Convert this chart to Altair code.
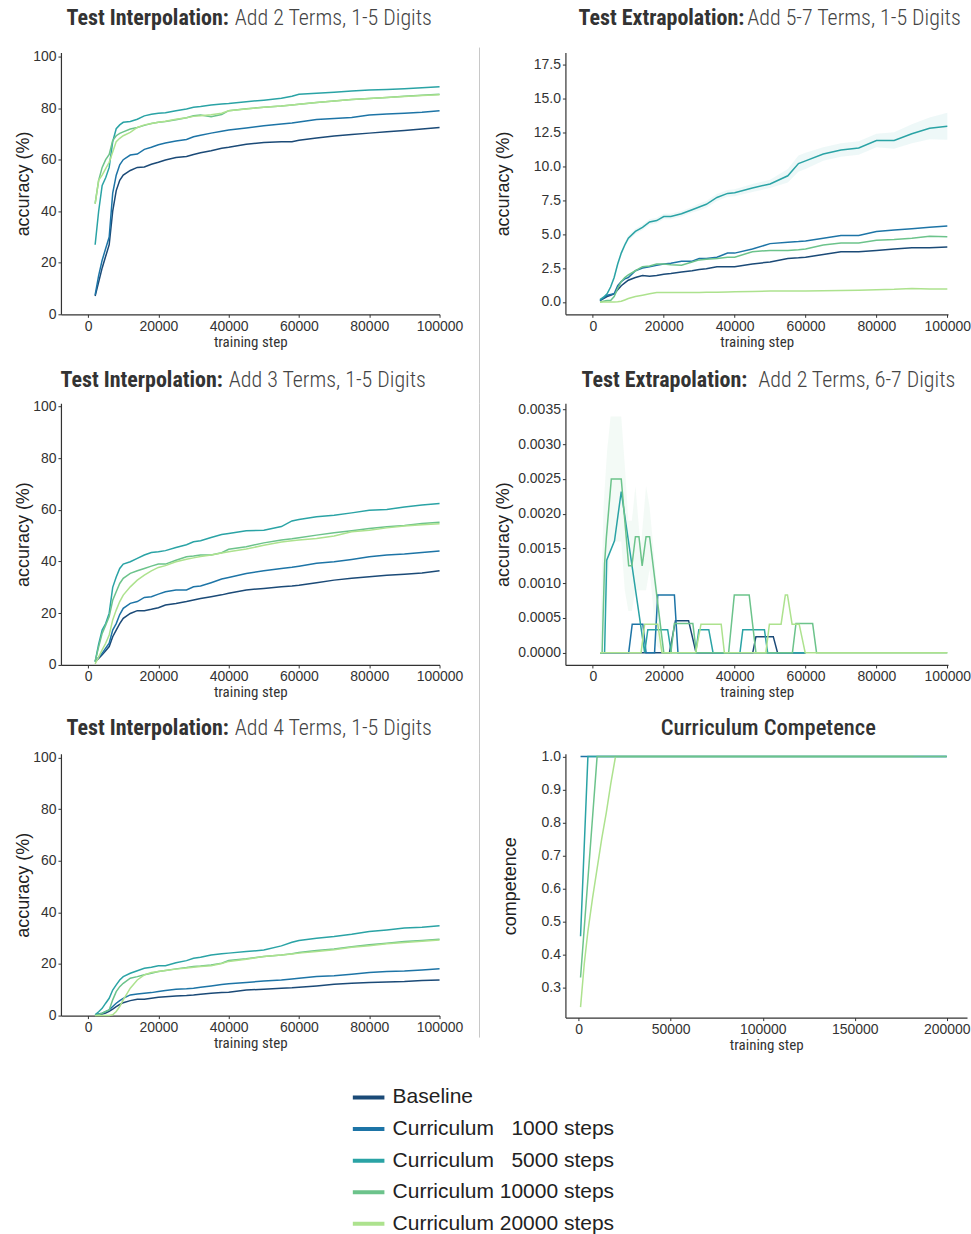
import altair as alt
import pandas as pd

SERIES = ["Baseline", "Curriculum\u2007 1000 steps", "Curriculum\u2007 5000 steps",
          "Curriculum 10000 steps", "Curriculum 20000 steps"]
COLORS = ["#1b4a77", "#1d74a6", "#2aa3a5", "#6cc38b", "#ade28e"]

STEPS = [2000, 3000, 4000, 5000, 6000, 7000, 8000, 9000, 10000, 12000, 14000, 16000, 18000,
         20000, 22000, 25000, 28000, 30000, 32000, 35000, 38000, 40000, 45000, 50000, 55000,
         58000, 60000, 65000, 70000, 75000, 80000, 85000, 90000, 95000, 100000]

# ---- Test Interpolation: Add 2 Terms ----
p1_base = [7.1, 12.5, 18, 22.5, 27, 40, 48, 52, 54, 55.8, 57, 57.2, 58.2, 59, 59.9, 60.8, 61.2, 62,
           62.7, 63.5, 64.4, 64.8, 66, 66.7, 67, 67, 67.5, 68.4, 69.2, 69.8, 70.3, 70.8, 71.3, 71.9, 72.5]
p1_c1000 = [7.5, 15, 21, 25.5, 30, 47, 54, 58, 60, 61.8, 62.2, 64, 64.8, 65.8, 66.5, 67.2, 67.8, 68.9,
            69.5, 70.3, 71, 71.5, 72.3, 73.2, 73.8, 74.2, 74.6, 75.6, 76, 76.4, 77.3, 77.7, 78, 78.4, 79]
p1_c5000 = [27, 40, 50, 53, 57, 67, 72, 73.5, 74.5, 74.8, 75.7, 77, 77.6, 78, 78.2, 79, 79.7, 80.3,
            80.6, 81.2, 81.6, 81.8, 82.5, 83.1, 83.8, 84.6, 85.4, 85.8, 86.2, 86.6, 87, 87.2, 87.5, 87.9, 88.3]
p1_c10000 = [43, 52, 57, 60, 62, 67.4, 69.3, 70.2, 70.8, 71.9, 72.5, 73.3, 74, 74.5, 74.8, 75.5, 76.3, 77,
             77.3, 76.7, 77.5, 79, 79.8, 80.3, 80.8, 81.2, 81.5, 82.2, 82.8, 83.3, 83.7, 84.1, 84.6, 85, 85.4]
p1_c20000 = [42.8, 52, 54, 56.5, 59, 63, 67, 68.3, 69.3, 70.6, 72.5, 73.5, 74, 74.5, 74.9, 75.7, 76.3, 76.8,
             77, 77.4, 78, 79, 79.7, 80.3, 80.8, 81.2, 81.5, 82.2, 82.8, 83.3, 83.7, 84.1, 84.5, 84.9, 85.2]

# ---- Test Extrapolation: Add 5-7 Terms ----
p2_base = [0.1, 0.25, 0.4, 0.5, 0.6, 0.9, 1.2, 1.4, 1.6, 1.8, 1.95, 1.9, 1.95, 2.05, 2.1, 2.2, 2.3, 2.4,
           2.45, 2.6, 2.6, 2.6, 2.8, 2.95, 3.2, 3.25, 3.3, 3.5, 3.7, 3.7, 3.8, 3.9, 4.0, 4.0, 4.05]
p2_c1000 = [0.1, 0.3, 0.5, 0.55, 0.6, 1.2, 1.5, 1.7, 1.8, 2.3, 2.5, 2.6, 2.7, 2.8, 2.85, 3.0, 3.0, 3.2,
            3.2, 3.3, 3.6, 3.6, 3.9, 4.3, 4.4, 4.45, 4.5, 4.7, 4.9, 4.9, 5.2, 5.3, 5.4, 5.5, 5.6]
p2_c5000 = [0.17, 0.35, 0.6, 1.1, 1.8, 2.8, 3.6, 4.2, 4.7, 5.2, 5.5, 5.9, 6.0, 6.3, 6.3, 6.5, 6.8, 7.0,
            7.2, 7.7, 8.0, 8.05, 8.4, 8.7, 9.3, 10.2, 10.4, 10.9, 11.2, 11.35, 11.9, 11.9, 12.4, 12.8, 12.95]
p2_c10000 = [0.0, 0.05, 0.1, 0.1, 0.4, 1.0, 1.5, 1.8, 2.0, 2.3, 2.6, 2.65, 2.8, 2.8, 2.75, 2.7, 2.95, 3.1,
             3.15, 3.2, 3.3, 3.3, 3.7, 3.8, 3.8, 3.85, 3.9, 4.2, 4.35, 4.35, 4.55, 4.6, 4.7, 4.85, 4.8]
p2_c20000 = [0.0, 0.0, 0.0, 0.0, 0.0, 0.02, 0.05, 0.15, 0.25, 0.4, 0.5, 0.6, 0.7, 0.7, 0.7, 0.7, 0.7, 0.7,
             0.72, 0.72, 0.74, 0.75, 0.77, 0.8, 0.8, 0.8, 0.8, 0.82, 0.85, 0.87, 0.9, 0.93, 1.0, 0.95, 0.95]
p2_c5000_hi = [0.2, 0.4, 0.7, 1.25, 2.0, 3.0, 3.8, 4.4, 4.9, 5.4, 5.7, 6.1, 6.2, 6.5, 6.5, 6.7, 7.0, 7.25,
               7.45, 7.95, 8.25, 8.3, 8.7, 9.0, 9.8, 10.8, 11.0, 11.4, 11.7, 11.85, 12.4, 12.5, 13.1, 13.6, 13.95]
p2_c5000_lo = [0.14, 0.3, 0.5, 0.95, 1.6, 2.6, 3.4, 4.0, 4.5, 5.0, 5.3, 5.7, 5.8, 6.1, 6.1, 6.3, 6.6, 6.75,
               6.95, 7.45, 7.75, 7.8, 8.1, 8.4, 8.8, 9.6, 9.8, 10.4, 10.7, 10.85, 11.4, 11.3, 11.7, 12.0, 11.95]

# ---- Test Interpolation: Add 3 Terms ----
p3_base = [1.3, 2.5, 3.9, 5.5, 7.1, 10.9, 13.5, 16, 18, 19.9, 21, 21, 21.5, 22.1, 23.2, 23.8, 24.5, 25.1,
           25.7, 26.4, 27.1, 27.7, 29, 29.6, 30.2, 30.5, 30.8, 31.8, 32.8, 33.5, 34.1, 34.7, 35.1, 35.6, 36.4]
p3_c1000 = [1.3, 3, 4.5, 6.5, 8.4, 13.5, 16, 19.5, 21.9, 23.8, 24.5, 26.1, 26.4, 27.4, 28.3, 29, 29, 30.2,
            30.5, 31.8, 33.2, 33.8, 35.4, 36.4, 37.3, 37.8, 38.2, 39.3, 39.9, 40.8, 41.8, 42.5, 42.9, 43.5, 44.1]
p3_c5000 = [1.3, 8, 13.5, 16, 20, 30, 34, 37.3, 39, 39.9, 41.2, 42.5, 43.5, 43.8, 44.2, 45.4, 46.5, 47.6,
            48, 49.3, 50.4, 50.8, 51.9, 52.1, 53.5, 55.7, 56.2, 57.3, 57.9, 58.8, 59.8, 60.1, 61.1, 61.8, 62.4]
p3_c10000 = [1.3, 7, 12.2, 15.4, 18.7, 25, 28.3, 31.5, 33.5, 35.4, 36.4, 37.3, 38.2, 39, 39, 40.5, 41.8, 42.1,
             42.5, 42.5, 43.4, 44.7, 45.7, 47.2, 48.3, 48.8, 49.2, 50.2, 51.1, 51.9, 52.8, 53.4, 53.9, 54.7, 55.2]
p3_c20000 = [0.4, 3, 5.8, 8.4, 11.6, 17.4, 21.2, 24.5, 27, 30.2, 32.8, 34.7, 36.4, 37.7, 38.4, 39.9, 40.9, 41.4,
             41.9, 42.5, 43.3, 43.8, 44.8, 46.3, 47.5, 48, 48.3, 48.9, 49.9, 51.5, 52.1, 53, 53.7, 54.2, 54.6]

# ---- Test Interpolation: Add 4 Terms ----
p5_base = [0.3, 0.4, 0.6, 1.0, 1.6, 2.5, 3.5, 4.3, 5, 5.8, 6.3, 6.3, 6.7, 7.1, 7.3, 7.6, 7.8, 8,
           8.3, 8.7, 8.9, 9, 9.9, 10.2, 10.6, 10.8, 11, 11.5, 12.1, 12.5, 12.8, 13, 13.2, 13.6, 13.8]
p5_c1000 = [0.3, 0.6, 0.9, 1.5, 2.2, 3.5, 4.8, 5.8, 6.7, 8, 8.4, 8.7, 8.9, 9.3, 9.7, 10.2, 10.4, 10.6,
            11, 11.5, 12, 12.3, 12.8, 13.4, 13.8, 14.2, 14.5, 15.1, 15.4, 16, 16.7, 17.1, 17.3, 17.7, 18.1]
p5_c5000 = [0.3, 1.5, 2.8, 4.8, 6.7, 9.9, 11.9, 13.8, 15.1, 16.4, 17.4, 18.3, 18.7, 19.3, 19.3, 20.5, 21.3, 22.2,
            22.6, 23.5, 24, 24.2, 24.8, 25.4, 27, 28.4, 29.1, 30, 30.6, 31.5, 32.6, 33.2, 33.9, 34.2, 34.8]
p5_c10000 = [0, 0.4, 0.9, 1.6, 2.2, 6.1, 9.3, 11.2, 12.5, 14.5, 15.1, 15.8, 16.4, 17.1, 17.5, 18.1, 18.6, 19,
             19.2, 19.6, 20.3, 21.3, 22, 22.9, 23.5, 24, 24.4, 25.2, 25.8, 26.7, 27.4, 28, 28.7, 29.1, 29.6]
p5_c20000 = [0, 0, 0, 0, 0, 0.3, 1.6, 3.5, 6.1, 10.6, 13.8, 15.8, 16.7, 17.1, 17.5, 18, 18.4, 18.7,
             19, 19.3, 20.2, 21, 21.8, 22.9, 23.5, 23.9, 24.2, 24.8, 25.5, 26.5, 27.1, 27.8, 28.3, 28.8, 29.3]

# ---- Test Extrapolation: Add 2 Terms, 6-7 Digits (irregular steps) ----
p4_base_x = [2000, 21600, 23300, 27000, 29100, 45100, 46000, 50900, 52100, 60000]
p4_base_y = [0, 0, 0.00046, 0.00046, 0, 0, 0.00023, 0.00023, 0, 0]
p4_c1000_x = [2000, 10100, 11100, 14100, 15000, 17400, 18300, 23000, 24000, 60000]
p4_c1000_y = [0, 0, 0.00041, 0.00041, 0, 0, 0.00083, 0.00083, 0, 0]
p4_c5000_x = [2000, 3300, 3900, 6100, 8000, 14600, 15500, 21100, 22100, 29000, 29900, 32700, 33900,
              41500, 42300, 48400, 49300, 60000]
p4_c5000_y = [0, 0, 0.00133, 0.00161, 0.00232, 0, 0.00033, 0.00033, 0, 0, 0.00033, 0.00033, 0,
              0, 0.00033, 0.00033, 0, 0]
p4_c10000_x = [2000, 2600, 3300, 3800, 5200, 8000, 10100, 11000, 12000, 13000, 13900, 15000, 16000, 20000,
               22000, 23000, 28200, 29200, 38300, 39900, 44100, 46000, 56300, 57300, 62000, 63100, 100000]
p4_c10000_y = [0, 0, 0.00128, 0.00166, 0.0025, 0.0025, 0.00125, 0.00125, 0.00167, 0.00167, 0.00125,
               0.00167, 0.00167, 0, 0, 0.00042, 0.00042, 0, 0, 0.00083, 0.00083, 0, 0, 0.00042, 0.00042, 0, 0]
p4_c20000_x = [2000, 13600, 14600, 18300, 19500, 29000, 30500, 36200, 37100, 48800, 49800, 53100, 54300,
               54900, 56200, 58200, 59900, 100000]
p4_c20000_y = [0, 0, 0.00041, 0.00041, 0, 0, 0.00041, 0.00041, 0, 0, 0.00041, 0.00041, 0.00083,
               0.00083, 0.00041, 0.00041, 0, 0]
p4_band_x = [2000, 3000, 4000, 5000, 8000, 9000, 10000, 11000, 12000, 13500, 15000, 16000, 18000, 20000]
p4_band_hi = [0, 0.0021, 0.0029, 0.0034, 0.0034, 0.0027, 0.0019, 0.0019, 0.0024, 0.0015, 0.0024, 0.0021, 0.0010, 0]
p4_band_lo = [0, 0.0005, 0.0008, 0.0016, 0.0016, 0.0009, 0.0006, 0.0006, 0.0009, 0.0009, 0.0009, 0.0012, 0.0001, 0]

# ---- Curriculum Competence ----
p6_c1000_x = [1000, 200000]
p6_c1000_y = [1.0, 1.0]
p6_c5000_x = [1000, 5000, 200000]
p6_c5000_y = [0.455, 1.0, 1.0]
p6_c20000_x = [1000, 3000, 5000, 7500, 10000, 12500, 15000, 17500, 20000, 182000]
p6_c20000_y = [0.24, 0.37, 0.47, 0.57, 0.66, 0.75, 0.83, 0.92, 1.0, 1.0]
p6_c10000_x = [1000, 10000, 200000]
p6_c10000_y = [0.33, 1.0, 1.0]


def long(parts):
    rows = []
    for name, xs, ys in parts:
        for x, y in zip(xs, ys):
            rows.append({"series": name, "step": x, "value": y})
    return pd.DataFrame(rows)


def band(name, xs, lo, hi):
    return pd.DataFrame({"series": [name] * len(xs), "step": xs, "lo": lo, "hi": hi})


COND = "Roboto Condensed, Liberation Sans Narrow, DejaVu Sans Condensed, Roboto"
SANS = "Liberation Sans, Arial, Helvetica"

cscale = alt.Scale(domain=SERIES, range=COLORS)
fscale = alt.Scale(domain=SERIES, range=COLORS)

LEGEND = alt.Legend(orient="none", legendX=290, legendY=1028, symbolType="stroke",
                    symbolSize=1000, symbolStrokeWidth=4, labelFont=SANS, labelFontSize=21,
                    labelColor="#222", labelOffset=6, rowPadding=3.6, padding=0,
                    labelLimit=400, title=None)


def text_layer(txt, x, y, align, weight, color, size=22):
    return alt.Chart(pd.DataFrame({"t": [txt]})).mark_text(
        align=align, baseline="alphabetic", font=COND, fontSize=size,
        fontWeight=weight, color=color
    ).encode(text="t:N", x=alt.value(x), y=alt.value(y))


def panel(df, xdom, xvals, ydom, yvals, yfmt, width, height, ytitle, ytx,
          titles, band_df=None, divider=None):
    xenc = alt.X("step:Q", scale=alt.Scale(domain=xdom, nice=False, zero=False),
                 axis=alt.Axis(values=xvals, format="d", title="training step",
                               titleFont=COND, titleFontSize=15, titleFontWeight="normal",
                               titleColor="#333", titleY=32, titleBaseline="alphabetic"))
    yaxis = alt.Axis(values=yvals, format=yfmt, title=ytitle, titleFont=SANS,
                     titleFontSize=18, titleFontWeight="normal", titleColor="#222",
                     titleX=ytx, titleAngle=270, titleBaseline="bottom", titleAlign="center")
    layers = []
    if band_df is not None:
        layers.append(alt.Chart(band_df).mark_area(opacity=0.08).encode(
            x=xenc,
            y=alt.Y("lo:Q", scale=alt.Scale(domain=ydom, nice=False, zero=False), axis=yaxis),
            y2="hi:Q",
            fill=alt.Fill("series:N", scale=fscale, legend=None),
            detail="series:N"))
    layers.append(alt.Chart(df).mark_line(strokeWidth=1.5).encode(
        x=xenc,
        y=alt.Y("value:Q", scale=alt.Scale(domain=ydom, nice=False, zero=False), axis=yaxis),
        color=alt.Color("series:N", scale=cscale, legend=LEGEND),
        order=alt.Order("step:Q")))
    for t in titles:
        layers.append(text_layer(*t))
    if divider is not None:
        layers.append(alt.Chart(pd.DataFrame({"a": [0]})).mark_rule(
            color="#c8c8c8", strokeWidth=1).encode(
            x=alt.value(divider[0]), y=alt.value(divider[1]), y2=alt.value(divider[2])))
    return alt.layer(*layers).properties(width=width, height=height)


XL = [-7730, 100000]
XR = [-7750, 100200]
XV = [0, 20000, 40000, 60000, 80000, 100000]
ACC = [0, 20, 40, 60, 80, 100]

df1 = long([(SERIES[0], STEPS, p1_base), (SERIES[1], STEPS, p1_c1000), (SERIES[2], STEPS, p1_c5000),
            (SERIES[3], STEPS, p1_c10000), (SERIES[4], STEPS, p1_c20000)])
df2 = long([(SERIES[0], STEPS, p2_base), (SERIES[1], STEPS, p2_c1000), (SERIES[2], STEPS, p2_c5000),
            (SERIES[3], STEPS, p2_c10000), (SERIES[4], STEPS, p2_c20000)])
df3 = long([(SERIES[0], STEPS, p3_base), (SERIES[1], STEPS, p3_c1000), (SERIES[2], STEPS, p3_c5000),
            (SERIES[3], STEPS, p3_c10000), (SERIES[4], STEPS, p3_c20000)])
df5 = long([(SERIES[0], STEPS, p5_base), (SERIES[1], STEPS, p5_c1000), (SERIES[2], STEPS, p5_c5000),
            (SERIES[3], STEPS, p5_c10000), (SERIES[4], STEPS, p5_c20000)])
df4 = long([(SERIES[0], p4_base_x, p4_base_y), (SERIES[1], p4_c1000_x, p4_c1000_y),
            (SERIES[2], p4_c5000_x, p4_c5000_y), (SERIES[3], p4_c10000_x, p4_c10000_y),
            (SERIES[4], p4_c20000_x, p4_c20000_y)])
df6 = long([(SERIES[1], p6_c1000_x, p6_c1000_y), (SERIES[2], p6_c5000_x, p6_c5000_y),
            (SERIES[4], p6_c20000_x, p6_c20000_y), (SERIES[3], p6_c10000_x, p6_c10000_y)])

b2 = band(SERIES[2], STEPS, p2_c5000_lo, p2_c5000_hi)
b4 = band(SERIES[3], p4_band_x, p4_band_lo, p4_band_hi)

c1 = panel(df1, XL, XV, [0, 101.55], ACC, "d", 379, 262, "accuracy (%)", -28,
           [("Test Interpolation:", 168, -27.5, "right", "bold", "#333"),
            ("Add 2 Terms, 1-5 Digits", 174, -27.5, "left", 300, "#444")],
           divider=(419, -5, 351))
c2 = panel(df2, XR, XV, [-0.91, 18.38], [0, 2.5, 5, 7.5, 10, 12.5, 15, 17.5], ".1f", 383, 262,
           "accuracy (%)", -53,
           [("Test Extrapolation:", 179, -27.5, "right", "bold", "#333"),
            ("Add 5-7 Terms, 1-5 Digits", 182, -27.5, "left", 300, "#444")],
           band_df=b2)
c3 = panel(df3, XL, XV, [0, 101.2], ACC, "d", 379, 262, "accuracy (%)", -28,
           [("Test Interpolation:", 162, -16.5, "right", "bold", "#333"),
            ("Add 3 Terms, 1-5 Digits", 168, -16.5, "left", 300, "#444")],
           divider=(419, 0, 351))
c4 = panel(df4, XR, XV, [-0.000177, 0.003591],
           [0, 0.0005, 0.001, 0.0015, 0.002, 0.0025, 0.003, 0.0035], ".4f", 383, 262,
           "accuracy (%)", -53,
           [("Test Extrapolation:", 182, -16.5, "right", "bold", "#333"),
            ("Add 2 Terms, 6-7 Digits", 193, -16.5, "left", 300, "#444")],
           band_df=b4)
c5 = panel(df5, XL, XV, [0, 101.4], ACC, "d", 379, 262, "accuracy (%)", -28,
           [("Test Interpolation:", 168, -19.3, "right", "bold", "#333"),
            ("Add 4 Terms, 1-5 Digits", 174, -19.3, "left", 300, "#444")],
           divider=(419, 0, 284))
c6 = panel(df6, [-7220, 211000], [0, 50000, 100000, 150000, 200000], [0.2082, 1.0082],
           [0.3, 0.4, 0.5, 0.6, 0.7, 0.8, 0.9, 1.0], ".1f", 402, 264, "competence", -46,
           [("Curriculum Competence", 203, -19.3, "center", 500, "#333", 22.5)])

chart = alt.concat(c1, c2, c3, c4, c5, c6, columns=2, bounds="flush",
                   spacing={"row": 89, "column": 126}).properties(
    padding={"left": 15, "top": 6, "right": 0, "bottom": 0}
).configure_view(strokeWidth=0).configure_axis(
    grid=False, labelFont=SANS, labelFontSize=14, labelColor="#333", labelFlush=False,
    domainColor="#333", domainWidth=1.2, tickColor="#333", tickSize=3, labelPadding=2
)

chart.save("out.html", embed_options={"renderer": "svg", "actions": False})
